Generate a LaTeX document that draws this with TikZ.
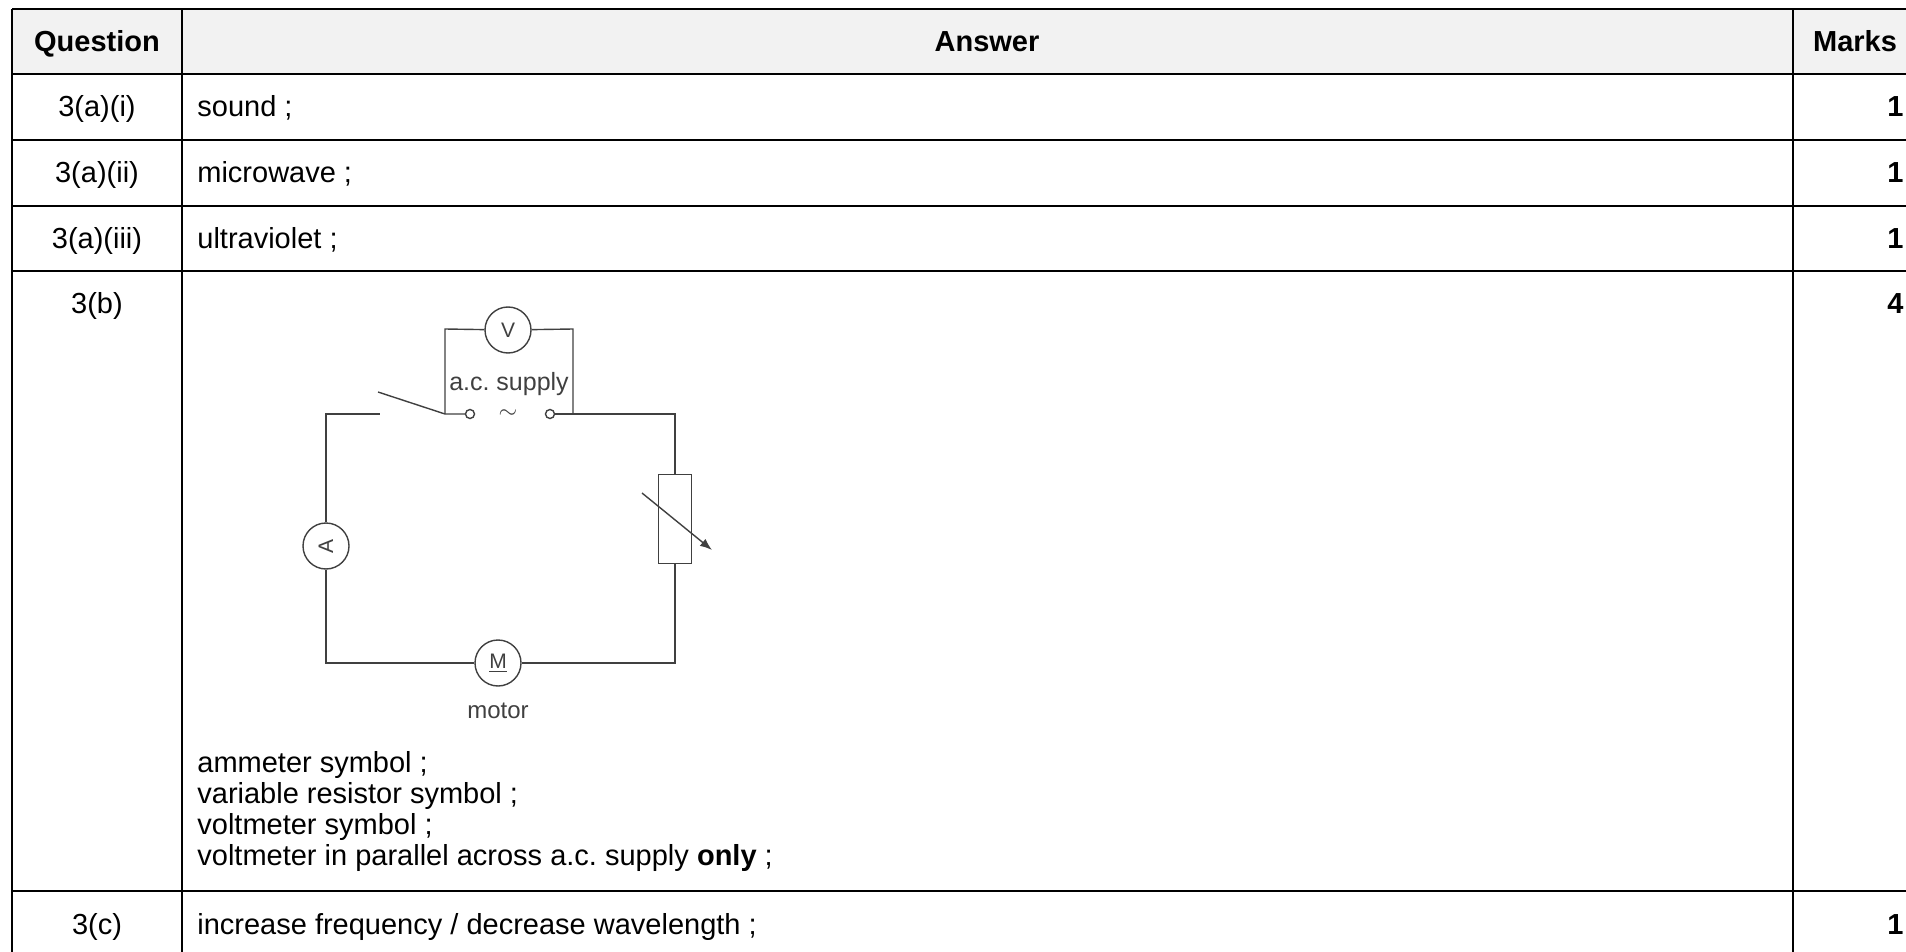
\documentclass[tikz,border=0pt]{standalone}
\usepackage{fontspec}
\setmainfont{Liberation Sans}
\usetikzlibrary{arrows.meta}
\definecolor{wirecol}{gray}{0.25}
\definecolor{headfill}{gray}{0.95}
\frenchspacing

\begin{document}
\begin{tikzpicture}[x=0.5pt, y=-0.5pt,
    rule/.style={line width=1pt, black},
    head/.style={font=\fontsize{14.5}{17}\selectfont\bfseries, inner sep=0pt, anchor=base},
    cell/.style={font=\fontsize{14.5}{17}\selectfont, inner sep=0pt, anchor=base},
    answer/.style={cell, anchor=base west},
    markcell/.style={cell, font=\fontsize{14.5}{17}\selectfont\bfseries, anchor=base east},
    wire/.style={draw=wirecol, line width=0.7pt},
    meter/.style={
        circle,
        draw=wirecol, line width=0.7pt,
        minimum size=23pt,
        inner sep=0pt,
        text=wirecol,
        font=\fontsize{10.5}{12}\selectfont},
    terminal/.style={circle, draw=wirecol, line width=0.7pt, minimum size=4.5pt, inner sep=0pt},
    resistor/.style={
        rectangle,
        draw=wirecol, line width=0.7pt,
        minimum width=16.5pt,
        minimum height=44.5pt,
        inner sep=0pt},
    tag/.style={text=wirecol, inner sep=0pt, anchor=base, font=\fontsize{12.5}{14}\selectfont}
    ]

    \useasboundingbox (0,0) rectangle (1906,952);
    \clip (0,0) rectangle (1906,952);

    % table
    \fill [headfill] (12,9) rectangle (1917,74);
    \foreach \y in {9,74,140,206,271,891}
        \draw [rule] (12,\y) -- (1917,\y);
    \foreach \x in {12,182,1793}
        \draw [rule] (\x,9) -- (\x,960);

    \node (qhead) [head] at (97,52) {Question};
    \node (ahead) [head] at (987,52) {Answer};
    \node (mhead) [head] at (1855,52) {Marks};

    \node (q1) [cell] at (97,117) {3(a)(i)};
    \node (a1) [answer] at (197,117) {sound ;};
    \node (m1) [markcell] at (1904,117) {1};

    \node (q2) [cell] at (97,183) {3(a)(ii)};
    \node (a2) [answer] at (197,183) {microwave ;};
    \node (m2) [markcell] at (1904,183) {1};

    \node (q3) [cell] at (97,249) {3(a)(iii)};
    \node (a3) [answer] at (197,249) {ultraviolet ;};
    \node (m3) [markcell] at (1904,249) {1};

    \node (q4) [cell] at (97,314) {3(b)};
    \node (m4) [markcell] at (1904,314) {4};
    \node (a4a) [answer] at (197,772) {ammeter symbol ;};
    \node (a4b) [answer] at (197,803) {variable resistor symbol ;};
    \node (a4c) [answer] at (197,834) {voltmeter symbol ;};
    \node (a4d) [answer] at (197,865) {voltmeter in parallel across a.c. supply \textbf{only} ;};

    \node (q5) [cell] at (97,934) {3(c)};
    \node (a5) [answer] at (197,934) {increase frequency / decrease wavelength ;};
    \node (m5) [markcell] at (1904,934) {1};

    % circuit
    \node (amm) [meter] at (326,546) {\rotatebox{90}{A}};
    \node (volt) [meter] at (508,330) {V};
    \node (mot) [meter] at (498,663) {\underline{M}};
    \node (res) [resistor] at (675,519) {};
    \node (t1) [terminal] at (470,414) {};
    \node (t2) [terminal] at (550,414) {};
    \node (ac) [text=wirecol, inner sep=0pt, font=\fontsize{13}{14}\selectfont] at (508,414) {$\sim$};
    \node (supply) [tag] at (509,390) {a.c. supply};
    \node (motor) [tag, font=\fontsize{12}{14}\selectfont] at (498,718) {motor};

    \coordinate (tl) at (326,414);
    \coordinate (tr) at (675,414);
    \coordinate (bl) at (326,663);
    \coordinate (br) at (675,663);
    \coordinate (swa) at (380,414);
    \coordinate (swb) at (378,392);
    \coordinate (vl) at (445,414);
    \coordinate (vr) at (573,414);
    \coordinate (vtl) at (445,329);
    \coordinate (vtr) at (573,329);
    \coordinate (arra) at (642,493);
    \coordinate (arrb) at (712,550);

    \draw [wire] (amm) -- (tl) -- (swa);
    \draw [wire] (swb) -- (vl) -- (t1);
    \draw [wire] (t2) -- (vr) -- (tr) -- (res);
    \draw [wire] (res) -- (br) -- (mot);
    \draw [wire] (mot) -- (bl) -- (amm);
    \draw [wire] (vl) -- (vtl) -- (volt);
    \draw [wire] (volt) -- (vtr) -- (vr);
    \draw [wire, -{Latex[length=6pt,width=4.5pt]}] (arra) -- (arrb);

\end{tikzpicture}
\end{document}
